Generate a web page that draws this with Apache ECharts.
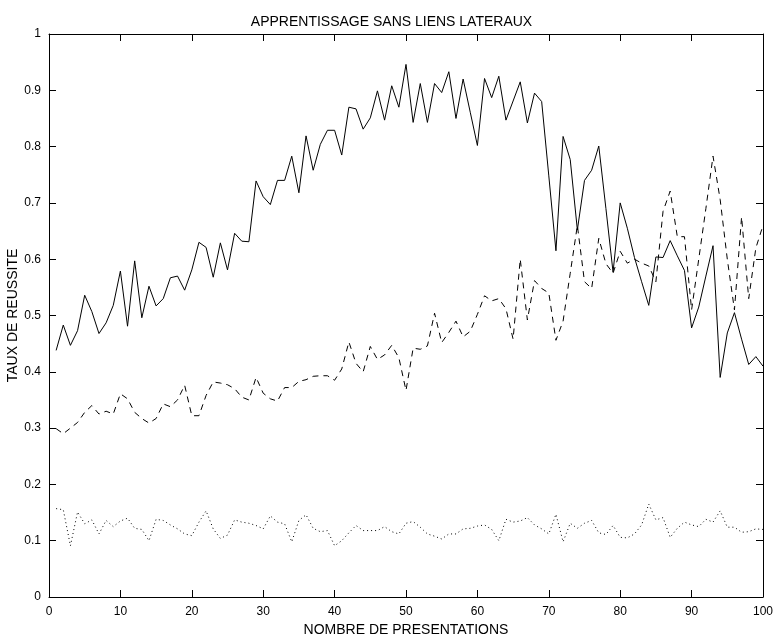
<!DOCTYPE html>
<html>
<head>
<meta charset="utf-8">
<script src="https://cdn.jsdelivr.net/npm/echarts@6/dist/echarts.min.js"></script>
<style>
html,body{margin:0;padding:0;background:#fff;}
#chart{width:783px;height:640px;}
</style>
</head>
<body>
<div id="chart"></div>
<script>
// presentation numbers 1..100
const presentations = [1,2,3,4,5,6,7,8,9,10,11,12,13,14,15,16,17,18,19,20,21,22,23,24,25,26,27,28,29,30,31,32,33,34,35,36,37,38,39,40,41,42,43,44,45,46,47,48,49,50,51,52,53,54,55,56,57,58,59,60,61,62,63,64,65,66,67,68,69,70,71,72,73,74,75,76,77,78,79,80,81,82,83,84,85,86,87,88,89,90,91,92,93,94,95,96,97,98,99,100];

// solid line
const solidSeries = [0.438,0.483,0.447,0.473,0.536,0.507,0.468,0.487,0.518,0.579,
0.481,0.597,0.496,0.552,0.517,0.530,0.567,0.570,0.545,0.581,
0.630,0.621,0.568,0.629,0.581,0.646,0.632,0.631,0.739,0.711,
0.697,0.740,0.740,0.783,0.718,0.819,0.758,0.804,0.829,0.829,
0.785,0.870,0.867,0.831,0.851,0.899,0.847,0.908,0.870,0.946,
0.843,0.912,0.843,0.912,0.896,0.933,0.850,0.920,0.861,0.802,
0.921,0.887,0.925,0.847,0.881,0.915,0.842,0.895,0.880,0.748,
0.615,0.818,0.777,0.652,0.740,0.758,0.801,0.690,0.577,0.700,
0.655,0.603,0.560,0.518,0.604,0.603,0.633,0.606,0.580,0.478,
0.515,0.570,0.624,0.390,0.469,0.505,0.458,0.413,0.427,0.410];

// dashed line
const dashedSeries = [0.299,0.290,0.300,0.310,0.328,0.340,0.325,0.330,0.325,0.361,
0.352,0.328,0.317,0.309,0.317,0.343,0.338,0.350,0.376,0.322,
0.322,0.358,0.382,0.380,0.377,0.370,0.355,0.350,0.390,0.362,
0.352,0.348,0.372,0.372,0.383,0.386,0.392,0.393,0.393,0.385,
0.405,0.453,0.415,0.400,0.445,0.422,0.430,0.447,0.425,0.367,
0.442,0.440,0.446,0.504,0.452,0.470,0.490,0.462,0.472,0.502,
0.535,0.526,0.530,0.512,0.458,0.600,0.492,0.562,0.548,0.540,
0.456,0.490,0.575,0.660,0.560,0.548,0.637,0.592,0.575,0.614,
0.593,0.600,0.593,0.588,0.560,0.685,0.721,0.640,0.640,0.510,
0.600,0.690,0.783,0.706,0.600,0.510,0.675,0.530,0.620,0.660];

// dotted line
const dottedSeries = [0.157,0.155,0.091,0.151,0.130,0.137,0.112,0.136,0.125,0.135,
0.140,0.122,0.120,0.100,0.138,0.136,0.128,0.121,0.112,0.109,
0.133,0.153,0.121,0.104,0.110,0.137,0.133,0.131,0.127,0.121,
0.144,0.133,0.130,0.098,0.136,0.146,0.122,0.116,0.118,0.091,
0.100,0.114,0.127,0.118,0.118,0.118,0.125,0.116,0.112,0.131,
0.134,0.124,0.112,0.108,0.103,0.112,0.112,0.121,0.122,0.126,
0.128,0.120,0.100,0.138,0.133,0.135,0.141,0.128,0.121,0.112,
0.147,0.098,0.131,0.122,0.131,0.136,0.114,0.111,0.127,0.106,
0.105,0.112,0.128,0.165,0.137,0.141,0.106,0.122,0.133,0.128,
0.125,0.138,0.133,0.153,0.124,0.124,0.115,0.116,0.121,0.120];

const xTicks = [0,10,20,30,40,50,60,70,80,90,100];
const yTicks = [0,0.1,0.2,0.3,0.4,0.5,0.6,0.7,0.8,0.9,1];

const titleText = 'APPRENTISSAGE SANS LIENS LATERAUX';
const xName = 'NOMBRE DE PRESENTATIONS';
const yName = 'TAUX DE REUSSITE';

function pairs(ys){ return presentations.map((x,i)=>[x, ys[i]]); }

const FONT = '"Liberation Sans", Arial, Helvetica, sans-serif';
const chart = echarts.init(document.getElementById('chart'), null, {renderer:'canvas'});

const lineAxis = {show:true, onZero:false, lineStyle:{color:'#000', width:1}};
const tick = {show:true, inside:true, length:7, lineStyle:{color:'#000', width:1}};

chart.setOption({
  animation:false,
  backgroundColor:'#fff',
  title:{
    text:titleText, left:'center', top:10,
    textStyle:{fontFamily:FONT, fontSize:14, fontWeight:'normal', color:'#000'}
  },
  grid:{left:49, right:20, top:34, bottom:43, containLabel:false, outerBoundsMode:'none'},
  xAxis:[{
    type:'value', min:xTicks[0], max:xTicks[xTicks.length-1], interval:10,
    position:'bottom',
    name:xName, nameLocation:'middle', nameGap:26, nameMoveOverlap:false,
    nameTextStyle:{fontFamily:FONT, fontSize:14, color:'#000'},
    axisLine:lineAxis, axisTick:tick,
    axisLabel:{fontFamily:FONT, fontSize:12, color:'#000', margin:9},
    splitLine:{show:false}
  },{
    type:'value', min:xTicks[0], max:xTicks[xTicks.length-1], interval:10,
    position:'top',
    axisLine:lineAxis, axisTick:tick, axisLabel:{show:false}, splitLine:{show:false}
  }],
  yAxis:[{
    type:'value', min:yTicks[0], max:yTicks[yTicks.length-1], interval:0.1,
    position:'left',
    name:yName, nameLocation:'middle', nameGap:29, nameMoveOverlap:false,
    nameTextStyle:{fontFamily:FONT, fontSize:14, color:'#000'},
    axisLine:lineAxis, axisTick:tick,
    axisLabel:{fontFamily:FONT, fontSize:12, color:'#000', margin:8,
      formatter:v=>String(Math.round(v*10)/10)},
    splitLine:{show:false}
  },{
    type:'value', min:yTicks[0], max:yTicks[yTicks.length-1], interval:0.1,
    position:'right',
    axisLine:lineAxis, axisTick:tick, axisLabel:{show:false}, splitLine:{show:false}
  }],
  series:[
    {type:'line', name:'solid', data:pairs(solidSeries), showSymbol:false, symbol:'none',
     lineStyle:{color:'#000', width:1, type:'solid'}, xAxisIndex:0, yAxisIndex:0},
    {type:'line', name:'dashed', data:pairs(dashedSeries), showSymbol:false, symbol:'none',
     lineStyle:{color:'#000', width:1, type:[6,5]}, xAxisIndex:0, yAxisIndex:0},
    {type:'line', name:'dotted', data:pairs(dottedSeries), showSymbol:false, symbol:'none',
     lineStyle:{color:'#000', width:1, type:[1,3]}, xAxisIndex:0, yAxisIndex:0}
  ]
});
</script>
</body>
</html>
